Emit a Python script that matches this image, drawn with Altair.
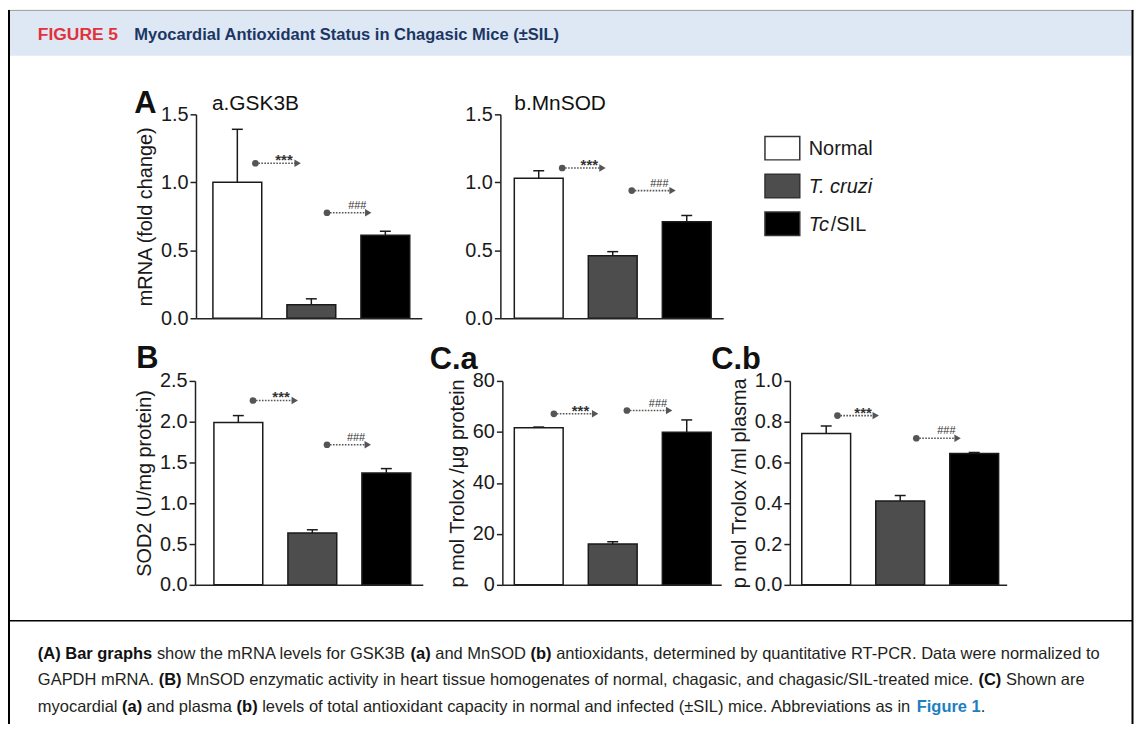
import json
import altair as alt
import pandas as pd

# ---------------- data ----------------
GROUPS = ["Normal", "T. cruzi", "Tc/SIL"]
GROUP_COLORS = ["#ffffff", "#4d4d4d", "#000000"]

GSK3B_MEAN = [1.00, 0.10, 0.61]
GSK3B_SEM = [0.39, 0.043, 0.03]
MNSOD_MEAN = [1.03, 0.46, 0.71]
MNSOD_SEM = [0.055, 0.03, 0.046]
SOD2_MEAN = [1.99, 0.635, 1.372]
SOD2_SEM = [0.085, 0.04, 0.053]
TROLOX_TISSUE_MEAN = [61.6, 16.0, 59.9]
TROLOX_TISSUE_SEM = [0.3, 0.9, 4.8]
TROLOX_PLASMA_MEAN = [0.742, 0.411, 0.644]
TROLOX_PLASMA_SEM = [0.037, 0.027, 0.005]

# significance annotations: *** Normal vs T. cruzi, ### T. cruzi vs Tc/SIL
SIG_LABELS = ["***", "###"]
SIG_FROM = ["Normal", "T. cruzi"]
SIG_TO = ["T. cruzi", "Tc/SIL"]
# heights (data units); start / end / label placement as fraction of bar width
GSK3B_SIG_Y = [1.14, 0.776]
GSK3B_SIG_START = [0.87, 0.82]
GSK3B_SIG_END = [0.22, 0.15]
GSK3B_SIG_TEXT = [-0.06, -0.075]
MNSOD_SIG_Y = [1.105, 0.939]
MNSOD_SIG_START = [0.98, 0.89]
MNSOD_SIG_END = [0.29, 0.21]
MNSOD_SIG_TEXT = [0.02, -0.06]
SOD2_SIG_Y = [2.26, 1.717]
SOD2_SIG_START = [0.80, 0.80]
SOD2_SIG_END = [0.14, 0.12]
SOD2_SIG_TEXT = [-0.14, -0.12]
TISSUE_SIG_Y = [67.1, 68.4]
TISSUE_SIG_START = [0.81, 0.79]
TISSUE_SIG_END = [0.14, 0.14]
TISSUE_SIG_TEXT = [-0.16, -0.09]
PLASMA_SIG_Y = [0.830, 0.719]
PLASMA_SIG_START = [0.73, 0.83]
PLASMA_SIG_END = [0.0, 0.16]
PLASMA_SIG_TEXT = [-0.26, -0.07]

TICKS_A = [0, 0.5, 1.0, 1.5]
TICKS_B = [0, 0.5, 1.0, 1.5, 2.0, 2.5]
TICKS_CA = [0, 20, 40, 60, 80]
TICKS_CB = [0, 0.2, 0.4, 0.6, 0.8, 1.0]

CAPTION_LINES = [
    [("(A) Bar graphs", "bold"), (" show the mRNA levels for GSK3B ", "normal"), ("(a)", "bold"),
     (" and MnSOD ", "normal"), ("(b)", "bold"),
     (" antioxidants, determined by quantitative RT-PCR. Data were normalized to", "normal")],
    [("GAPDH mRNA. ", "normal"), ("(B)", "bold"),
     (" MnSOD enzymatic activity in heart tissue homogenates of normal, chagasic, and chagasic/SIL-treated mice. ", "normal"),
     ("(C)", "bold"), (" Shown are", "normal")],
    [("myocardial ", "normal"), ("(a)", "bold"), (" and plasma ", "normal"), ("(b)", "bold"),
     (" levels of total antioxidant capacity in normal and infected (\u00b1SIL) mice. Abbreviations as in ", "normal"),
     ("Figure 1", "link"), (".", "normal")],
]

# ---------------- layout helpers ----------------
W, H = 1132, 716
OX, OY = 8, 8
FONT = "Liberation Sans"
INK = "#1a1a1a"
ARROW = "#555555"
STEP = 74.4
PAD_INNER = 0.34
BAND = STEP * (1 - PAD_INNER)
ONE = pd.DataFrame({"k": [0]})


def X(px):
    return px - OX


def Y(py):
    return py - OY


# Arial / Helvetica advance widths (1/1000 em) for text layout
_CH = " !\"#$%&'()*+,-./0123456789:;<=>?@ABCDEFGHIJKLMNOPQRSTUVWXYZ[\\]^_`abcdefghijklmnopqrstuvwxyz{|}~"
_REG = [278, 278, 355, 556, 556, 889, 667, 191, 333, 333, 389, 584, 278, 333, 278, 278] + [556] * 10 + \
       [278, 278, 584, 584, 584, 556, 1015,
        667, 667, 722, 722, 667, 611, 778, 722, 278, 500, 667, 556, 833, 722, 778, 667, 778, 722, 667, 611,
        722, 667, 944, 667, 667, 611,
        278, 278, 278, 469, 556, 333,
        556, 556, 500, 556, 556, 278, 556, 556, 222, 222, 500, 222, 833, 556, 556, 556, 556, 333, 500, 278,
        556, 500, 722, 500, 500, 500,
        334, 260, 334, 584]
_BLD = [278, 333, 474, 556, 556, 889, 722, 238, 333, 333, 389, 584, 278, 333, 278, 278] + [556] * 10 + \
       [333, 333, 584, 584, 584, 611, 975,
        722, 722, 722, 722, 667, 611, 778, 722, 278, 556, 722, 611, 833, 722, 778, 667, 778, 722, 667, 611,
        722, 667, 944, 667, 667, 611,
        333, 278, 333, 584, 556, 333,
        556, 611, 556, 611, 556, 333, 611, 611, 278, 278, 556, 278, 889, 611, 611, 611, 611, 389, 556, 333,
        611, 556, 778, 556, 556, 500,
        389, 280, 389, 584]
REG_W = dict(zip(_CH, _REG))
BLD_W = dict(zip(_CH, _BLD))
REG_W["\u00b1"] = 584
BLD_W["\u00b1"] = 584


def em(s, bold=False):
    t = BLD_W if bold else REG_W
    return sum(t.get(c, 556) for c in s) / 1000.0


def txt(text, px, py, size, weight="normal", style="normal", color=INK, align="left"):
    return alt.Chart(ONE).mark_text(
        text=text, font=FONT, fontSize=size, fontWeight=weight, fontStyle=style,
        color=color, align=align, baseline="alphabetic"
    ).encode(x=alt.value(X(px)), y=alt.value(Y(py)))


def hrule(x1, x2, y, color, width):
    return alt.Chart(ONE).mark_rule(color=color, strokeWidth=width).encode(
        x=alt.value(X(x1)), x2=alt.value(X(x2)), y=alt.value(Y(y)))


def vrule(x, y1, y2, color, width):
    return alt.Chart(ONE).mark_rule(color=color, strokeWidth=width).encode(
        x=alt.value(X(x)), y=alt.value(Y(y1)), y2=alt.value(Y(y2)))


COLOR_SCALE = alt.Scale(domain=GROUPS, range=GROUP_COLORS)
GROUPS_JS = json.dumps(GROUPS)


def panel(means, sems, sig_y, sig_start, sig_end, sig_text, ydomain, yticks, yformat, ytitle,
          axis_x, bar_x, x_end, y_zero, y_top):
    span = x_end - axis_x
    extra = span - STEP * (len(GROUPS) - PAD_INNER)
    xs = alt.Scale(domain=GROUPS, range=[X(axis_x), X(x_end)], paddingInner=PAD_INNER,
                   paddingOuter=extra / (2 * STEP), align=(bar_x - axis_x) / extra)
    ys = alt.Scale(domain=ydomain, range=[Y(y_zero), Y(y_top)], nice=False, zero=False)

    base = alt.Chart(pd.DataFrame({"group": GROUPS, "mean": means, "sem": sems}))
    bars = base.mark_bar(stroke=INK, strokeWidth=1.5).encode(
        x=alt.X("group:N", scale=xs, title=None,
                axis=alt.Axis(orient="bottom", offset=Y(y_zero) - H, labels=False, ticks=False, zindex=1)),
        y=alt.Y("mean:Q", scale=ys, title=ytitle,
                axis=alt.Axis(orient="left", offset=-X(axis_x), values=yticks, format=yformat, zindex=1)),
        color=alt.Color("group:N", scale=COLOR_SCALE, legend=None),
    )
    errbase = base.transform_calculate(upper="datum.mean + datum.sem")
    err = errbase.mark_rule(color=INK, strokeWidth=1.5).encode(
        x=alt.X("group:N", scale=xs, title=None),
        y=alt.Y("mean:Q", scale=ys, title=ytitle),
        y2="upper:Q",
    )
    cap = errbase.mark_tick(color=INK, thickness=1.5, size=11, opacity=1).encode(
        x=alt.X("group:N", scale=xs, title=None),
        y=alt.Y("upper:Q", scale=ys, title=ytitle),
    )
    bar_layer = alt.layer(bars, err, cap)

    # annotation layer on a continuous scale that mirrors the band layout
    rows = []
    for i, lab in enumerate(SIG_LABELS):
        rows.append({"label": lab, "role": "start", "group": SIG_FROM[i], "frac": sig_start[i], "y": sig_y[i]})
        rows.append({"label": lab, "role": "end", "group": SIG_TO[i], "frac": sig_end[i], "y": sig_y[i]})
        rows.append({"label": lab, "role": "text", "group": SIG_TO[i], "frac": sig_text[i], "y": sig_y[i]})
    ann = alt.Chart(pd.DataFrame(rows)).transform_calculate(
        u=f"indexof({GROUPS_JS}, datum.group) + datum.frac * {BAND / STEP}"
    )
    us = alt.Scale(domain=[-(bar_x - axis_x) / STEP, (x_end - bar_x) / STEP],
                   range=[X(axis_x), X(x_end)], nice=False, zero=False)
    enc = dict(x=alt.X("u:Q", scale=us, axis=None), y=alt.Y("y:Q", scale=ys, axis=None))
    line = ann.transform_filter("datum.role != 'text'").mark_line(
        color=ARROW, strokeWidth=1.6, strokeDash=[1.6, 1.4]).encode(detail="label:N", **enc)
    dot = ann.transform_filter("datum.role == 'start'").mark_point(
        shape="circle", filled=True, size=45, color=ARROW, opacity=1).encode(**enc)
    tri = ann.transform_filter("datum.role == 'end'").mark_point(
        shape="triangle-right", filled=True, size=55, color=ARROW, opacity=1).encode(**enc)
    stars = ann.transform_filter("datum.role == 'text' && datum.label == '***'").mark_text(
        font=FONT, fontSize=15, fontWeight="bold", color="#333", baseline="alphabetic", dy=2
    ).encode(text="label:N", **enc)
    hashes = ann.transform_filter("datum.role == 'text' && datum.label == '###'").mark_text(
        font=FONT, fontSize=11, color="#333", baseline="alphabetic", dy=-4
    ).encode(text="label:N", **enc)
    ann_layer = alt.layer(line, dot, tri, stars, hashes)
    return [bar_layer, ann_layer]


pA = panel(GSK3B_MEAN, GSK3B_SEM, GSK3B_SIG_Y, GSK3B_SIG_START, GSK3B_SIG_END, GSK3B_SIG_TEXT,
           [0, 1.5], TICKS_A, ".1f", "mRNA (fold change)", 197, 214, 424, 318, 113)
pAb = panel(MNSOD_MEAN, MNSOD_SEM, MNSOD_SIG_Y, MNSOD_SIG_START, MNSOD_SIG_END, MNSOD_SIG_TEXT,
            [0, 1.5], TICKS_A, ".1f", "", 503, 517, 727, 318, 113)
pB = panel(SOD2_MEAN, SOD2_SEM, SOD2_SIG_Y, SOD2_SIG_START, SOD2_SIG_END, SOD2_SIG_TEXT,
           [0, 2.5], TICKS_B, ".1f", "SOD2 (U/mg protein)", 196, 215, 425, 586, 381)
pCa = panel(TROLOX_TISSUE_MEAN, TROLOX_TISSUE_SEM, TISSUE_SIG_Y, TISSUE_SIG_START, TISSUE_SIG_END,
            TISSUE_SIG_TEXT, [0, 80], TICKS_CA, "d", "p mol Trolox /\u03bcg protein", 505, 517, 725, 586, 381)
pCb = panel(TROLOX_PLASMA_MEAN, TROLOX_PLASMA_SEM, PLASMA_SIG_Y, PLASMA_SIG_START, PLASMA_SIG_END,
            PLASMA_SIG_TEXT, [0, 1.0], TICKS_CB, ".1f", "p mol Trolox /ml plasma", 794, 806, 1012, 586, 381)

# ---------------- legend ----------------
leg_scale = alt.Scale(domain=GROUPS, range=[Y(133), Y(237)], paddingInner=0.38,
                      paddingOuter=(104 - 38 * 2.62) / 76)
leg_box = alt.Chart(pd.DataFrame({"group": GROUPS})).mark_rect(stroke="#333", strokeWidth=1.5).encode(
    y=alt.Y("group:N", scale=leg_scale, axis=None),
    x=alt.value(X(769)), x2=alt.value(X(804)),
    color=alt.Color("group:N", scale=COLOR_SCALE, legend=None),
)
tc_w = em("Tc") * 20
leg_parts = pd.DataFrame({
    "group": ["Normal", "T. cruzi", "Tc/SIL", "Tc/SIL"],
    "part": ["Normal", "T. cruzi", "Tc", "/SIL"],
    "style": ["normal", "italic", "italic", "normal"],
    "px": [X(813), X(813), X(813), X(813) + tc_w],
})
leg_layers = []
for st in ["normal", "italic"]:
    leg_layers.append(
        alt.Chart(leg_parts).transform_filter(alt.datum.style == st).mark_text(
            font=FONT, fontSize=20, fontStyle=st, color=INK, align="left", baseline="middle", dy=1
        ).encode(
            x=alt.X("px:Q", scale=None, axis=None),
            y=alt.Y("group:N", scale=leg_scale, axis=None),
            text="part:N",
        )
    )
legend = alt.layer(leg_box, *leg_layers)

# ---------------- caption ----------------
CAP_X0, CAP_W = 38, 1069
CAP_BASE = [661, 687, 714]
fs = CAP_W / sum(em(s, w != "normal") for s, w in CAPTION_LINES[0])
cap_rows = []
for li, segs in enumerate(CAPTION_LINES):
    x = CAP_X0
    for s, w in segs:
        lead = len(s) - len(s.lstrip(" "))
        cap_rows.append({"t": s.strip(), "px": X(x + lead * 0.278 * fs), "py": Y(CAP_BASE[li]), "w": w})
        x += em(s, w != "normal") * fs
cap_df = pd.DataFrame(cap_rows)
cap_layers = []
for w, weight, color in [("normal", "normal", "#231f20"), ("bold", "bold", "#111111"), ("link", "bold", "#1d7fc1")]:
    cap_layers.append(
        alt.Chart(cap_df).transform_filter(alt.datum.w == w).mark_text(
            font=FONT, fontSize=fs, fontWeight=weight, color=color, align="left", baseline="alphabetic"
        ).encode(
            x=alt.X("px:Q", scale=None, axis=None),
            y=alt.Y("py:Q", scale=None, axis=None),
            text="t:N",
        )
    )

# ---------------- frame & header ----------------
banner = alt.Chart(ONE).mark_rect(color="#dde8f4").encode(
    x=alt.value(X(9)), x2=alt.value(X(1137.5)), y=alt.value(Y(9)), y2=alt.value(Y(54)))
frame = [
    banner,
    hrule(8, 1140, 8.5, "#9a9a9a", 1),
    vrule(9, 8, 738, "#000000", 2),
    vrule(1138.5, 8, 738, "#000000", 2),
    hrule(9, 1138, 622, "#000000", 1.5),
    txt("FIGURE 5", 38, 38.5, 17.5, weight="bold", color="#e2313b"),
    txt("Myocardial Antioxidant Status in Chagasic Mice (\u00b1SIL)", 135, 38.5, 16.6, weight="bold",
        color="#1c3664"),
]
labels = [
    txt("A", 135, 112, 31, weight="bold", color="#111"),
    txt("B", 137, 368, 31, weight="bold", color="#111"),
    txt("C.a", 432, 369, 31, weight="bold", color="#111"),
    txt("C.b", 715, 369, 31, weight="bold", color="#111"),
    txt("a.GSK3B", 213, 109, 21, color="#111"),
    txt("b.MnSOD", 517, 109, 21, color="#111"),
]

chart = alt.layer(
    *frame, *pA, *pAb, *pB, *pCa, *pCb, legend, *labels, *cap_layers
).resolve_scale(
    x="independent", y="independent"
).properties(
    width=W, height=H, autosize=alt.AutoSizeParams(type="none"), padding=0, background="white"
).configure_view(
    stroke="transparent"
).configure_axis(
    labelFont=FONT, titleFont=FONT, labelFontSize=20, titleFontSize=20, titleFontWeight="normal",
    labelColor="#1a1a1a", titleColor="#1a1a1a", domainColor="#222222", tickColor="#222222",
    domainWidth=1.5, tickWidth=1.5, tickSize=6, labelPadding=2, titlePadding=5, grid=False
)

chart.save("out.html", embed_options={"renderer": "svg", "actions": False})
